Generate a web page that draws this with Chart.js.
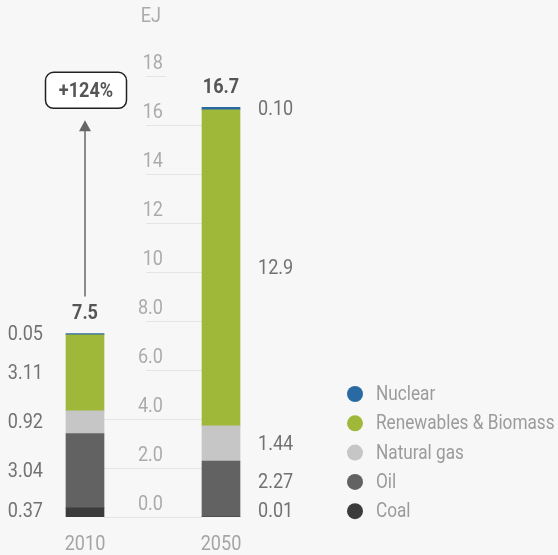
<!DOCTYPE html>
<html>
<head>
<meta charset="utf-8">
<script src="https://cdn.jsdelivr.net/npm/chart.js@4"></script>
<style>
  html, body { margin: 0; padding: 0; background: #f7f7f7; }
  canvas { display: block; }
</style>
</head>
<body>
<canvas id="chart" width="558" height="555"></canvas>
<script>
const years = ['2010', '2050'];
const seriesNames = ['Coal', 'Oil', 'Natural gas', 'Renewables & Biomass', 'Nuclear'];
const coal = [0.37, 0.01];
const oil = [3.04, 2.27];
const naturalGas = [0.92, 1.44];
const renewables = [3.11, 12.9];
const nuclear = [0.05, 0.10];
const segmentLabels = [
  ['0.37', '3.04', '0.92', '3.11', '0.05'],
  ['0.01', '2.27', '1.44', '12.9', '0.10']
];
const totals = ['7.5', '16.7'];
const yTicks = [0, 2, 4, 6, 8, 10, 12, 14, 16, 18];
const yTickLabels = ['0.0', '2.0', '4.0', '6.0', '8.0', '10', '12', '14', '16', '18'];
const unitLabel = 'EJ';
const growthLabel = '+124%';

const COLORS = ['#3b3b3b', '#626262', '#c6c6c6', '#9fb83a', '#2a6aa3'];
const FONT = 'Roboto, sans-serif';
const SQUEEZE = 0.86; // fake a condensed face

function font(size, bold) {
  return (bold ? 'bold ' : '') + size + 'px ' + FONT;
}

function text(ctx, str, x, y) {
  ctx.save();
  ctx.translate(x, y);
  ctx.scale(SQUEEZE, 1);
  ctx.fillText(str, 0, 0);
  ctx.restore();
}

const overlay = {
  id: 'overlay',
  beforeDatasetsDraw(chart) {
    const { ctx } = chart;
    const y = chart.scales.y;
    const bars0 = chart.getDatasetMeta(0).data;
    const leftEdge = bars0[0].x + bars0[0].width / 2;
    const rightEdge = bars0[1].x - bars0[1].width / 2;
    const topPx = chart.getDatasetMeta(4).data[1].y;
    ctx.save();
    ctx.strokeStyle = '#e4e4e4';
    ctx.lineWidth = 1;
    yTicks.forEach((v) => {
      const py = Math.round(y.getPixelForValue(v)) + 0.5;
      const x0 = v <= 4 ? leftEdge : 146;
      const x1 = py < topPx ? 166 : rightEdge;
      ctx.beginPath();
      ctx.moveTo(x0, py);
      ctx.lineTo(x1, py);
      ctx.stroke();
    });
    ctx.restore();
  },
  afterDatasetsDraw(chart) {
    const { ctx } = chart;
    const y = chart.scales.y;
    const bottom = y.getPixelForValue(0);
    ctx.save();

    // y tick labels in the gap between bars
    ctx.font = font(21);
    ctx.fillStyle = '#ababab';
    ctx.textAlign = 'right';
    ctx.textBaseline = 'alphabetic';
    yTicks.forEach((v, i) => {
      text(ctx, yTickLabels[i], 163, y.getPixelForValue(v) - 7);
    });
    text(ctx, unitLabel, 161, 22);

    // segment value labels, pushed apart when too close
    years.forEach((yr, c) => {
      let prev = bottom - 6;
      const bar = chart.getDatasetMeta(0).data[c];
      const half = bar.width / 2;
      ctx.font = font(21);
      ctx.fillStyle = '#727272';
      ctx.textBaseline = 'middle';
      ctx.textAlign = c === 0 ? 'right' : 'left';
      const tx = c === 0 ? bar.x - half - 23 : bar.x + half + 18;
      for (let s = 0; s < seriesNames.length; s++) {
        const el = chart.getDatasetMeta(s).data[c];
        const mid = (el.y + el.base) / 2;
        const pos = s === 0 ? Math.min(mid, prev) : Math.min(mid, prev - 29);
        prev = pos;
        text(ctx, segmentLabels[c][s], tx, pos + 1);
      }
      // totals
      const top = chart.getDatasetMeta(4).data[c];
      ctx.font = font(21, true);
      ctx.fillStyle = '#555555';
      ctx.textAlign = 'center';
      text(ctx, totals[c], bar.x, top.y - 20);
      // years
      ctx.font = font(21);
      ctx.fillStyle = '#a5a5a5';
      text(ctx, yr, bar.x, bottom + 28);
    });

    // growth box and arrow
    const b0 = chart.getDatasetMeta(4).data[0];
    const b1 = chart.getDatasetMeta(4).data[1];
    const cx = b0.x;
    const boxCy = b1.y - 17;
    const bw = 81, bh = 36;
    ctx.beginPath();
    ctx.roundRect(cx - bw / 2 + 1, boxCy - bh / 2, bw, bh, 8);
    ctx.fillStyle = '#ffffff';
    ctx.fill();
    ctx.lineWidth = 1.5;
    ctx.strokeStyle = '#222222';
    ctx.stroke();
    ctx.font = font(21, true);
    ctx.fillStyle = '#555555';
    ctx.textAlign = 'center';
    ctx.textBaseline = 'middle';
    text(ctx, growthLabel, cx + 1, boxCy + 1);

    const tipY = boxCy + bh / 2 + 12;
    const baseY = b0.y - 37;
    ctx.strokeStyle = '#666666';
    ctx.lineWidth = 1.5;
    ctx.beginPath();
    ctx.moveTo(cx, baseY);
    ctx.lineTo(cx, tipY + 8);
    ctx.stroke();
    ctx.fillStyle = '#666666';
    ctx.beginPath();
    ctx.moveTo(cx, tipY);
    ctx.lineTo(cx - 6, tipY + 11);
    ctx.lineTo(cx + 6, tipY + 11);
    ctx.closePath();
    ctx.fill();

    // legend, top item first
    ctx.font = font(20);
    ctx.textAlign = 'left';
    ctx.textBaseline = 'middle';
    for (let k = 0; k < seriesNames.length; k++) {
      const s = seriesNames.length - 1 - k;
      const ly = 394 + k * 29.3;
      ctx.fillStyle = COLORS[s];
      ctx.beginPath();
      ctx.arc(355, ly, 8, 0, Math.PI * 2);
      ctx.fill();
      ctx.fillStyle = '#9b9b9b';
      text(ctx, seriesNames[s], 376, ly + 1);
    }
    ctx.restore();
  }
};

const seriesData = [coal, oil, naturalGas, renewables, nuclear];

new Chart(document.getElementById('chart'), {
  type: 'bar',
  data: {
    labels: years,
    datasets: seriesData.map((d, i) => ({
      label: seriesNames[i],
      data: d,
      backgroundColor: COLORS[i],
      borderWidth: 0,
      barThickness: 38
    }))
  },
  options: {
    responsive: false,
    animation: false,
    layout: { padding: { left: 17, right: 269, top: 76, bottom: 38 } },
    plugins: { legend: { display: false }, tooltip: { enabled: false } },
    scales: {
      x: { stacked: true, display: false },
      y: { stacked: true, display: false, min: 0, max: 18 }
    }
  },
  plugins: [overlay]
});
</script>
</body>
</html>
